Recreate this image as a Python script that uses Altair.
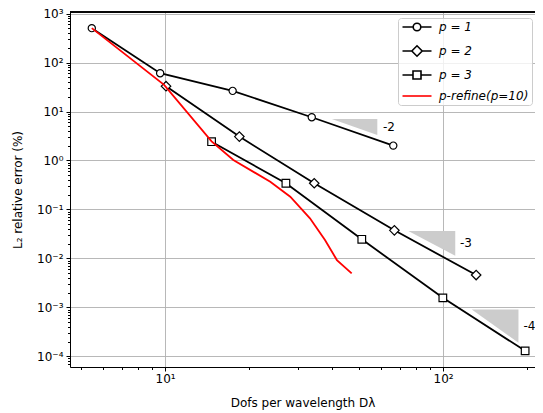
import json
import altair as alt
import pandas as pd

# ---------------- data ----------------
p1_x = [5.45, 9.6, 17.5, 33.7, 66.2]
p1_y = [505, 60.7, 26.4, 7.64, 2.01]
p2_x = [10.08, 18.5, 34.4, 66.8, 131.5]
p2_y = [32.9, 3.07, 0.342, 0.0374, 0.00456]
p3_x = [14.7, 27.2, 51.0, 99.8, 197.3]
p3_y = [2.42, 0.342, 0.0245, 0.00156, 1.29e-4]
pr_x = [5.45, 9.92, 14.7, 17.6, 23.9, 28.2, 33.2, 37.6, 41.5, 46.9]
pr_y = [505, 35.0, 2.45, 1.02, 0.368, 0.182, 0.0658, 0.0237, 0.00923, 0.00493]

tri_labels = ["-2", "-3", "-4"]
tri_x0 = [39.8, 75.0, 126.8]
tri_x1 = [58.0, 110.6, 186.7]
tri_ytop = [7.06, 0.0361, 9.06e-4]
tri_ybot = [3.32, 0.0113, 1.88e-4]
lab_x = [60.8, 115.0, 194.5]
lab_y = [4.84, 0.0203, 4.12e-4]

legend_names = ["p = 1", "p = 2", "p = 3", "p-refine(p=10)"]

x_ticks = [5, 6, 7, 8, 9, 10, 20, 30, 40, 50, 60, 70, 80, 90, 100, 200]
x_tick_labels = ["10⁰", "10¹", "10²", "10³"]
y_ticks = [6e-5, 7e-5, 8e-5, 9e-5]
for e in range(-4, 3):
    y_ticks += [m * 10.0 ** e for m in range(1, 10)]
y_ticks += [1000]
y_tick_labels = ["10⁻⁴", "10⁻³", "10⁻²", "10⁻¹", "10⁰", "10¹", "10²", "10³"]

# ---------------- frames ----------------
def series_df(xs, ys, name):
    return pd.DataFrame({"x": xs, "y": ys, "series": name})

d1 = series_df(p1_x, p1_y, legend_names[0])
d2 = series_df(p2_x, p2_y, legend_names[1])
d3 = series_df(p3_x, p3_y, legend_names[2])
dr = series_df(pr_x, pr_y, legend_names[3])

tri_rows = []
for lab, a, b, t, bt in zip(tri_labels, tri_x0, tri_x1, tri_ytop, tri_ybot):
    tri_rows.append({"tri": lab, "x": a, "y": t, "y2": t})
    tri_rows.append({"tri": lab, "x": b, "y": t, "y2": bt})
tri_df = pd.DataFrame(tri_rows)
lab_df = pd.DataFrame({"x": lab_x, "y": lab_y, "t": tri_labels})

W, H = 465, 355
FONT = "DejaVu Sans"

major = "abs(log(datum.value)/LN10 - round(log(datum.value)/LN10)) < 0.001"
xlab = json.dumps(x_tick_labels, ensure_ascii=False)
ylab = json.dumps(y_tick_labels, ensure_ascii=False)

xscale = alt.Scale(type="log", domain=[4.55, 214.1], nice=False)
yscale = alt.Scale(type="log", domain=[6.03e-5, 1079.0], nice=False)

xaxis = alt.Axis(
    values=x_ticks,
    labelExpr=f"{major} ? {xlab}[round(log(datum.value)/LN10)] : ''",
    tickSize={"condition": {"test": major, "value": 4}, "value": 2.5},
    gridOpacity={"condition": {"test": major, "value": 1}, "value": 0},
    labelOverlap=False, labelFlush=False, labelPadding=2,
    title="Dofs per wavelength Dλ", titlePadding=13,
)
yaxis = alt.Axis(
    values=y_ticks,
    labelExpr=f"{major} ? {ylab}[round(log(datum.value)/LN10)+4] : ''",
    tickSize={"condition": {"test": major, "value": 4}, "value": 2.5},
    gridOpacity={"condition": {"test": major, "value": 1}, "value": 0},
    labelOverlap=False, labelFlush=False, labelPadding=3,
    title="L₂ relative error (%)", titlePadding=12,
)

X = alt.X("x:Q", scale=xscale, axis=xaxis)
Y = alt.Y("y:Q", scale=yscale, axis=yaxis)

def line(df, color):
    return alt.Chart(df).mark_line(color=color, strokeWidth=1.8, clip=True).encode(
        x=alt.X("x:Q"), y=alt.Y("y:Q"))

def pts(df, shape, size):
    return alt.Chart(df).mark_point(shape=shape, size=size, filled=False, fill="white",
                                    stroke="black", strokeWidth=1.2, opacity=1, clip=True).encode(
        x=alt.X("x:Q"), y=alt.Y("y:Q"))

base = alt.Chart(d1).mark_line(color="black", strokeWidth=1.8, clip=True).encode(x=X, y=Y)

tri = alt.Chart(tri_df).mark_area(color="#cccccc", opacity=1, clip=True).encode(
    x=alt.X("x:Q"), y=alt.Y("y:Q"), y2="y2:Q", detail="tri:N")
txt = alt.Chart(lab_df).mark_text(align="left", baseline="middle", font=FONT, fontSize=12,
                                  color="black").encode(x=alt.X("x:Q"), y=alt.Y("y:Q"), text="t:N")

top_spine = alt.Chart(d1).mark_rule(color="black", strokeWidth=1).encode(
    x=alt.value(0), x2=alt.value(W), y=alt.value(0))

paths = [
    "M-3.625,0H-0.95M0.95,0H3.625M0.95,0A0.95,0.95,0,1,1,-0.95,0A0.95,0.95,0,1,1,0.95,0Z",
    "M-3.625,0H-1.3M1.3,0H3.625M-1.3,0L0,-1.3L1.3,0L0,1.3Z",
    "M-3.625,0H-1M1,0H3.625M-1,-1H1V1H-1Z",
    "M-3.625,0H3.625",
]
leg = alt.Legend(title=None, orient="none", legendX=328, legendY=6, padding=3,
                 rowPadding=7, symbolSize=64, symbolOffset=10, labelOffset=16,
                 labelFont=FONT, labelFontSize=12, labelFontStyle="italic", labelColor="black",
                 strokeColor="#cccccc", fillColor="rgba(255,255,255,0.8)", cornerRadius=3,
                 symbolStrokeWidth=1.6, symbolFillColor="white", symbolOpacity=1)
legend_layer = alt.Chart(pd.DataFrame({"series": legend_names})).mark_point(
    filled=False, fill="white", strokeWidth=1.6, opacity=1).encode(
    color=alt.Color("series:N", scale=alt.Scale(domain=legend_names,
                                                 range=["black", "black", "black", "red"]), legend=leg),
    shape=alt.Shape("series:N", scale=alt.Scale(domain=legend_names, range=paths), legend=leg),
).transform_filter("false")

chart = alt.layer(
    base, pts(d1, "circle", 52),
    line(d2, "black"), pts(d2, "diamond", 90),
    line(d3, "black"), pts(d3, "square", 58),
    line(dr, "red"),
    tri, txt, top_spine, legend_layer,
).properties(
    width=W, height=H,
    autosize=alt.AutoSizeParams(type="none"),
    padding={"left": 62, "top": 4, "right": 0, "bottom": 46},
).configure_view(stroke=None).configure_axis(
    grid=True, gridColor="#b0b0b0", gridWidth=0.9,
    domainColor="black", domainWidth=1, tickColor="black", tickWidth=1,
    labelFont=FONT, labelFontSize=12, labelColor="black",
    titleFont=FONT, titleFontSize=12, titleFontWeight="normal", titleColor="black",
)

chart.save("out.html", embed_options={"renderer": "svg", "actions": False})
